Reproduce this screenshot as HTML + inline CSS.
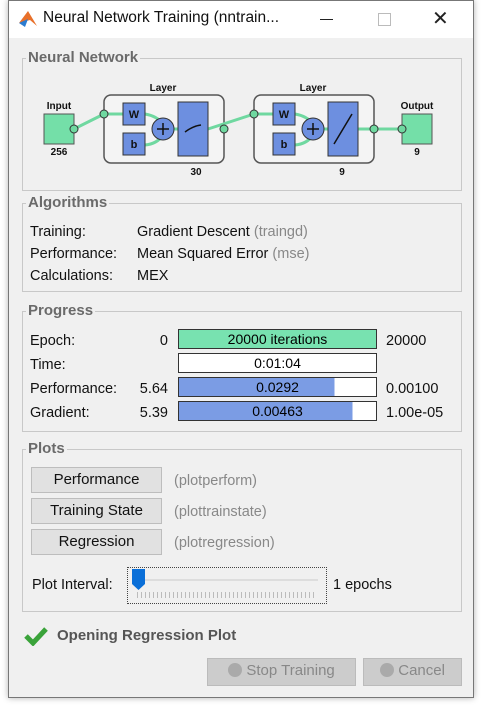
<!DOCTYPE html><html><head><style>
body{margin:0;width:482px;height:705px;background:#fff;position:relative;overflow:hidden;font-family:"Liberation Sans",sans-serif}
.a{position:absolute}
.win{left:8px;top:0;width:464px;height:696px;border:1px solid #777;background:#f0f0f0;box-shadow:0 0 6px rgba(0,0,0,.3)}
.tb{left:9px;top:1px;width:464px;height:37px;background:#fff}
.grp{border:1px solid #c8c8c8}
.gt{font-weight:bold;color:#6a6a6a;font-size:15px;background:#f0f0f0;padding:0 2px}
.t{font-size:14.5px;color:#111}
.g{color:#888}
.bar{border:1px solid #333;background:#fff;height:18px;font-size:14px;text-align:center;line-height:18px}
.btn{background:#e1e1e1;border:1px solid #adadadad;font-size:15px;text-align:center;line-height:24px;color:#111}
</style></head><body>
<div class="a" style="left:474px;top:0;width:8px;height:705px;background:#fff"></div>
<div class="a win"></div>
<div class="a tb"></div>
<svg class="a" style="left:17px;top:9px" width="22" height="20"><polygon points="2,14 11,2 20,17 13,11" fill="#e8702a"/><polygon points="2,14 11,10 8,18" fill="#2a7bd0"/></svg>
<div class="a" style="left:43px;top:9px;font-size:15.5px;color:#111">Neural Network Training (nntrain...</div>
<div class="a" style="left:320px;top:19px;width:13px;height:1px;background:#222"></div>
<div class="a" style="left:378px;top:13px;width:11px;height:11px;border:1px solid #bbb"></div>
<div class="a" style="left:432px;top:6px;font-size:20px;color:#222">✕</div>

<div class="a grp" style="left:22px;top:58px;width:438px;height:131px"></div>
<div class="a gt" style="left:26px;top:49px">Neural Network</div>
<svg class="a" style="left:22px;top:78px" width="438" height="100" font-family="Liberation Sans" font-weight="bold" font-size="10">
<g fill="#111" text-anchor="middle"><text x="37" y="31">Input</text><text x="37" y="77">256</text><text x="141" y="13">Layer</text><text x="174" y="97">30</text><text x="291" y="13">Layer</text><text x="320" y="97">9</text><text x="395" y="31">Output</text><text x="395" y="77">9</text></g>
<rect x="22" y="36" width="30" height="30" fill="#74dfa8" stroke="#555"/>
<rect x="82" y="17" width="120" height="68" rx="7" fill="#f4f4f4" stroke="#555" stroke-width="1.5"/>
<rect x="232" y="17" width="120" height="68" rx="7" fill="#f4f4f4" stroke="#555" stroke-width="1.5"/>
<rect x="380" y="36" width="30" height="30" fill="#74dfa8" stroke="#555"/>
<g stroke="#6fd8a0" stroke-width="3" fill="none">
<path d="M52,51 L82,36 M82,36 L101,36 M123,36 Q135,38 141,46 M123,67 Q135,66 141,57 M152,51 L156,51 M186,51 L232,36 M232,36 L251,36 M273,36 Q285,38 291,46 M273,67 Q285,66 291,57 M302,51 L306,51 M336,51 L380,51"/></g>
<g fill="#6fd8a0" stroke="#333"><circle cx="52" cy="51" r="4"/><circle cx="82" cy="36" r="4"/><circle cx="202" cy="51" r="4"/><circle cx="232" cy="36" r="4"/><circle cx="352" cy="51" r="4"/><circle cx="380" cy="51" r="4"/></g>
<g fill="#6d8fe0" stroke="#333"><rect x="101" y="25" width="22" height="22"/><rect x="101" y="55" width="22" height="22"/><rect x="156" y="24" width="30" height="54"/><circle cx="141" cy="51" r="11"/>
<rect x="251" y="25" width="22" height="22"/><rect x="251" y="55" width="22" height="22"/><rect x="306" y="24" width="30" height="54"/><circle cx="291" cy="51" r="11"/></g>
<g fill="#111" text-anchor="middle" font-size="11"><text x="112" y="40">W</text><text x="112" y="70">b</text><text x="262" y="40">W</text><text x="262" y="70">b</text></g>
<g stroke="#111" stroke-width="1.5" fill="none"><path d="M135,51h12M141,45v12M285,51h12M291,45v12M163,54 Q171,48 179,47M312,66 L330,36"/></g>
</svg>

<div class="a grp" style="left:22px;top:203px;width:438px;height:87px"></div>
<div class="a gt" style="left:26px;top:194px">Algorithms</div>
<div class="a t" style="left:30px;top:221px;line-height:22px">Training:<br>Performance:<br>Calculations:</div>
<div class="a t" style="left:137px;top:221px;line-height:22px">Gradient Descent <span class="g">(traingd)</span><br>Mean Squared Error <span class="g">(mse)</span><br>MEX</div>

<div class="a grp" style="left:22px;top:311px;width:438px;height:119px"></div>
<div class="a gt" style="left:26px;top:302px">Progress</div>
<div class="a t" style="left:30px;top:329px;line-height:24px">Epoch:<br>Time:<br>Performance:<br>Gradient:</div>
<div class="a t" style="left:130px;top:329px;line-height:24px;width:38px;text-align:right">0<br><br>5.64<br>5.39</div>
<div class="a t" style="left:386px;top:329px;line-height:24px">20000<br><br>0.00100<br>1.00e-05</div>
<div class="a bar" style="left:178px;top:329px;width:197px;background:#78e2b0">20000 iterations</div>
<div class="a bar" style="left:178px;top:353px;width:197px">0:01:04</div>
<div class="a bar" style="left:178px;top:377px;width:197px;background:linear-gradient(90deg,#7b9ce4 79%,#fff 79%)">0.0292</div>
<div class="a bar" style="left:178px;top:401px;width:197px;background:linear-gradient(90deg,#7b9ce4 88%,#fff 88%)">0.00463</div>

<div class="a grp" style="left:22px;top:449px;width:438px;height:161px"></div>
<div class="a gt" style="left:26px;top:440px">Plots</div>
<div class="a btn" style="left:31px;top:467px;width:129px">Performance</div>
<div class="a btn" style="left:31px;top:498px;width:129px">Training State</div>
<div class="a btn" style="left:31px;top:529px;width:129px">Regression</div>
<div class="a t g" style="left:174px;top:466px;line-height:31px">(plotperform)<br>(plottrainstate)<br>(plotregression)</div>
<div class="a t" style="left:32px;top:577px">Plot Interval:</div>
<div class="a" style="left:127px;top:567px;width:198px;height:35px;border:1px dotted #444"></div>
<div class="a" style="left:137px;top:579px;width:181px;height:2px;background:#ddd"></div>
<div class="a" style="left:137px;top:592px;width:180px;height:6px;background:repeating-linear-gradient(90deg,#bbb 0 1px,transparent 1px 4px)"></div>
<svg class="a" style="left:132px;top:569px" width="14" height="22"><path d="M0,0h13v15l-6.5,6l-6.5,-6z" fill="#0a6fd8"/></svg>
<div class="a t" style="left:333px;top:577px">1 epochs</div>

<svg class="a" style="left:24px;top:626px" width="24" height="20"><path d="M2,10 L9,17 L22,3" stroke="#3aa33a" stroke-width="5" fill="none"/></svg>
<div class="a" style="left:57px;top:627px;font-size:15px;font-weight:bold;color:#555">Opening Regression Plot</div>
<div class="a btn" style="left:207px;top:658px;width:147px;height:26px;color:#888;background:#ccc;border-color:#bbb"><span style="display:inline-block;width:14px;height:14px;border-radius:7px;background:#aaa;vertical-align:-2px"></span> Stop Training</div>
<div class="a btn" style="left:363px;top:658px;width:97px;height:26px;color:#888;background:#ccc;border-color:#bbb"><span style="display:inline-block;width:14px;height:14px;border-radius:7px;background:#aaa;vertical-align:-2px"></span> Cancel</div>
</body></html>
